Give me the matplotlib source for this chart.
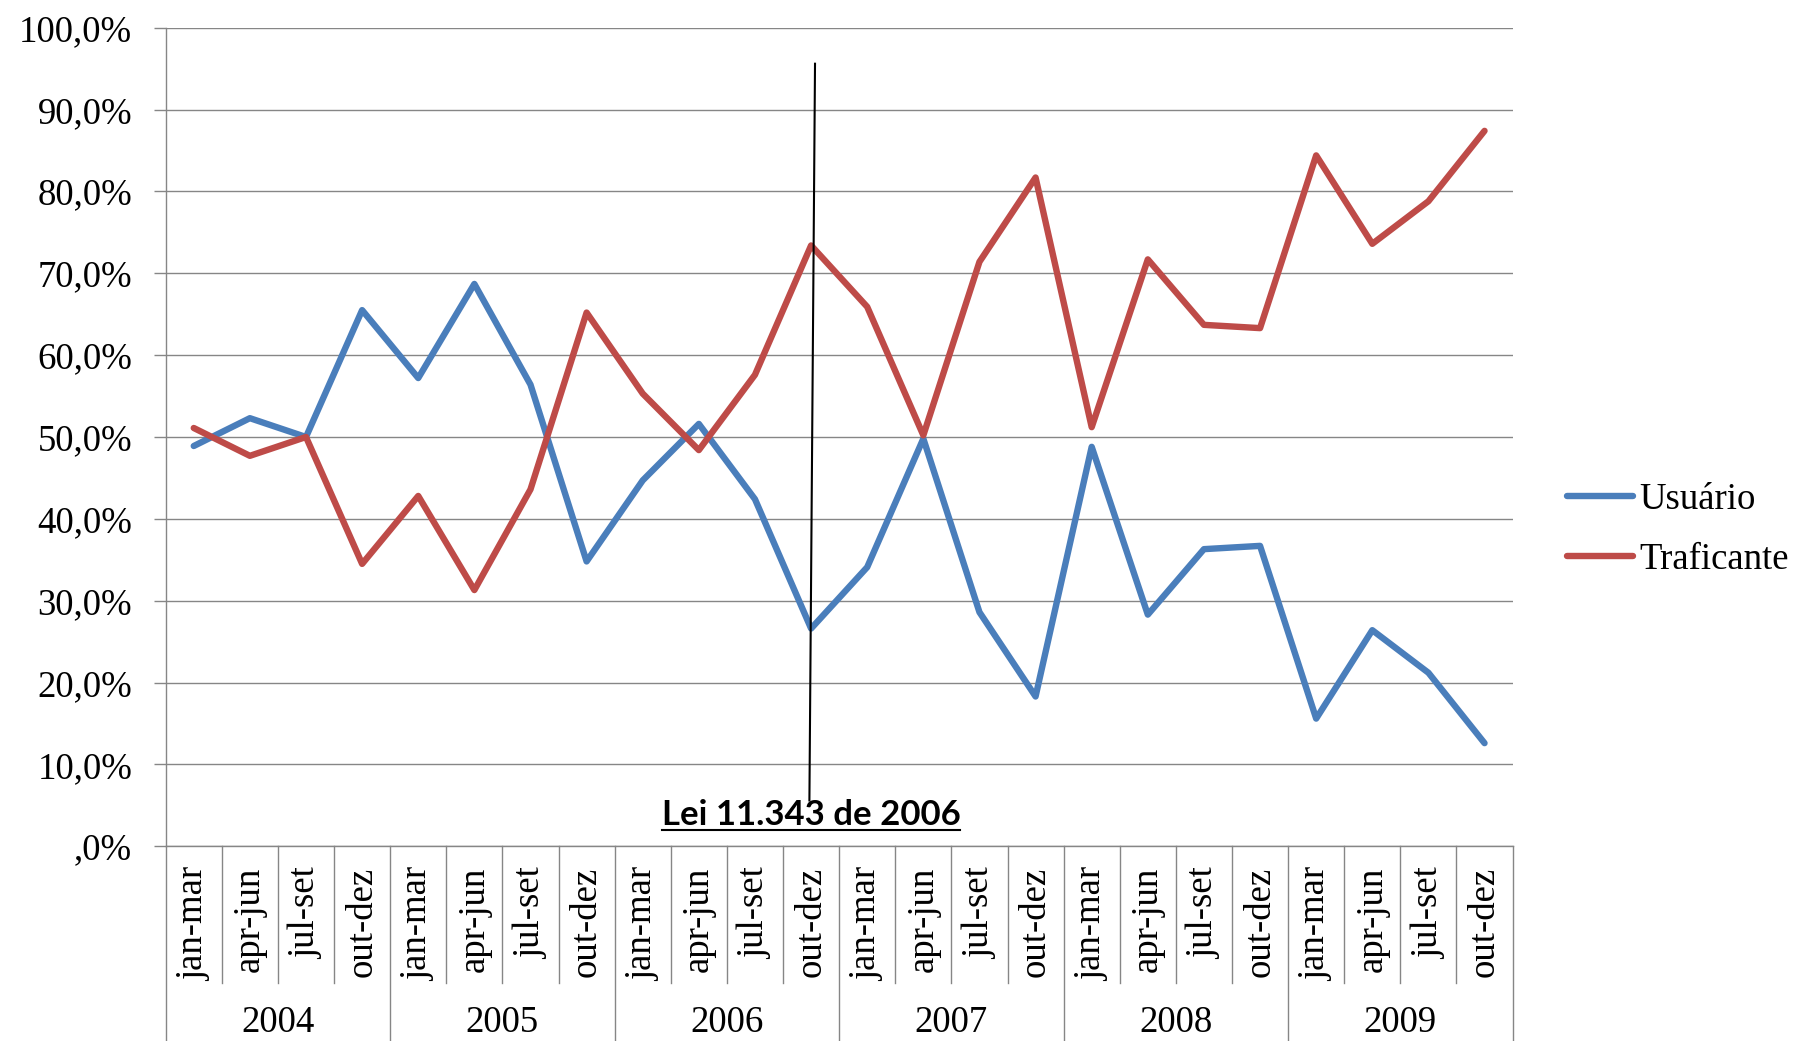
import matplotlib
matplotlib.use("Agg")
import matplotlib.pyplot as plt
from matplotlib.lines import Line2D
import matplotlib.transforms as mtransforms

# Quarterly share of drug cases by classification, 2004-2009 (%)
years = ["2004", "2005", "2006", "2007", "2008", "2009"]
quarters = ["jan-mar", "apr-jun", "jul-set", "out-dez"]
usuario = [48.9, 52.3, 50.0, 65.5, 57.2, 68.7, 56.4, 34.8,
           44.7, 51.6, 42.4, 26.6, 34.1, 49.8, 28.6, 18.3,
           48.8, 28.3, 36.3, 36.7, 15.6, 26.4, 21.2, 12.6]
traficante = [51.1, 47.7, 50.0, 34.5, 42.8, 31.3, 43.6, 65.2,
              55.3, 48.4, 57.6, 73.4, 65.9, 50.2, 71.4, 81.7,
              51.2, 71.7, 63.7, 63.3, 84.4, 73.6, 78.8, 87.4]
y_ticks = [0, 10, 20, 30, 40, 50, 60, 70, 80, 90, 100]
law_label = "Lei 11.343 de 2006"
law_index = 11  # out-dez 2006

BLUE = "#4A7EBB"
RED = "#BE4B48"
GRID = "#868686"
SERIF = ["Liberation Serif", "DejaVu Serif"]
FS = 26.5

W, H = 1802, 1041
fig = plt.figure(figsize=(W / 100, H / 100), dpi=100)
left_px, right_px, top_px, bottom_px = 165.7, 1512.6, 27.7, 846.3
ax = fig.add_axes([left_px / W, (H - bottom_px) / H,
                   (right_px - left_px) / W, (bottom_px - top_px) / H])

n = len(usuario)
x = list(range(n))
ax.plot(x, usuario, color=BLUE, lw=4.6, solid_joinstyle="round",
        solid_capstyle="round", label="Usuário", zorder=3)
ax.plot(x, traficante, color=RED, lw=4.6, solid_joinstyle="round",
        solid_capstyle="round", label="Traficante", zorder=3)

ax.set_xlim(-0.5, n - 0.5)
ax.set_ylim(0, 100)

# y axis
ax.set_yticks(y_ticks)
ax.set_yticklabels([("%d,0%%" % v) if v else ",0%" for v in y_ticks],
                   fontfamily=SERIF, fontsize=FS)
ax.tick_params(axis="y", direction="out", length=8.6, width=1.0,
               color=GRID, pad=15.5, labelcolor="black")
ax.yaxis.grid(True, color=GRID, lw=1.0)
ax.set_axisbelow(True)
ax.set_xticks([])

for s in ["top", "right"]:
    ax.spines[s].set_visible(False)
ax.spines["left"].set_color(GRID)
ax.spines["bottom"].set_color(GRID)
ax.spines["left"].set_linewidth(1.0)
ax.spines["bottom"].set_linewidth(1.0)

# multi-level category axis below the plot
trans = mtransforms.blended_transform_factory(ax.transData, ax.transAxes)
axh = bottom_px - top_px
quarter_bottom = -(982.6 - bottom_px) / axh
year_bottom = -(H - bottom_px + 2) / axh
for b in range(n + 1):
    xb = b - 0.5
    yb = year_bottom if b % 4 == 0 else quarter_bottom
    ax.add_line(Line2D([xb, xb], [0, yb], transform=trans, color=GRID,
                       lw=1.0, clip_on=False))

label_top = -(866.7 - bottom_px) / axh
for i in range(n):
    ax.text(i, label_top, quarters[i % 4], transform=trans, rotation=90,
            ha="center", va="top", fontfamily=SERIF, fontsize=FS)

year_y = -(1023 - bottom_px) / axh
for g, yr in enumerate(years):
    ax.text(4 * g + 1.5, year_y, yr, transform=trans, ha="center",
            va="center", fontfamily=SERIF, fontsize=FS)

# law marker line and label
ax.add_line(Line2D([law_index + 0.07, law_index - 0.03], [95.6, 5.6],
                   color="black", lw=1.5, zorder=4, clip_on=False))
law_txt = ax.text(law_index, 2.6, law_label, ha="center", va="baseline",
                  fontfamily=["Lato", "DejaVu Sans"], fontweight="bold",
                  fontsize=25, zorder=5)

# legend
ax.legend(loc="center left", bbox_to_anchor=(1566.8 / W, (H - 529.5) / H),
          bbox_transform=fig.transFigure, frameon=False, borderpad=0,
          borderaxespad=0, handlelength=1.8, handletextpad=0.17,
          labelspacing=0.68, prop={"family": SERIF, "size": FS})

# underline for the law label
fig.canvas.draw()
r = fig.canvas.get_renderer()
bb = law_txt.get_window_extent(r)
uy = bb.y0 + 1
inv = fig.transFigure.inverted()
(x0f, yf), (x1f, _) = inv.transform([(bb.x0, uy), (bb.x1, uy)])
fig.add_artist(Line2D([x0f, x1f], [yf, yf], transform=fig.transFigure,
                      color="black", lw=1.5))

fig.savefig("out.png", dpi=100, facecolor="white")
